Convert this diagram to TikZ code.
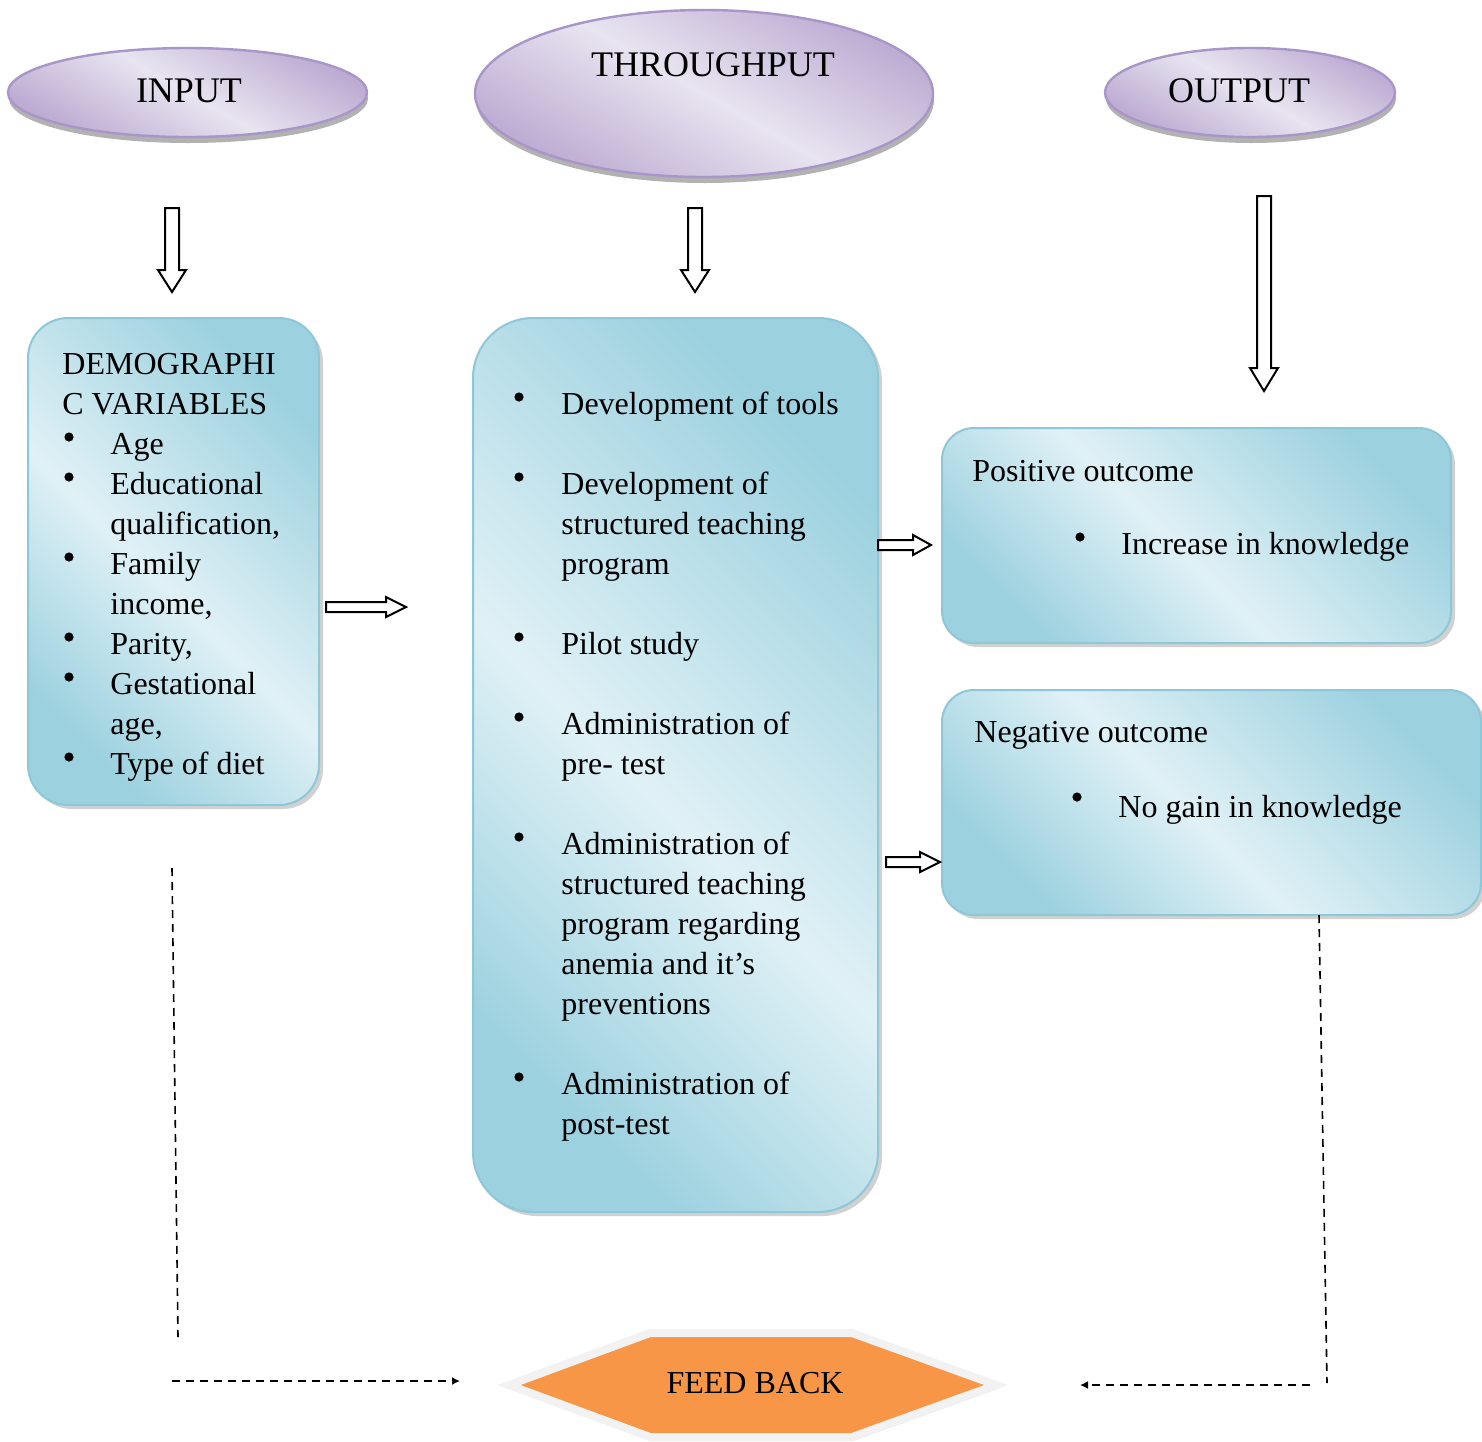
\documentclass[tikz,border=0pt]{standalone}
\usepackage{fontspec}
\setmainfont{Liberation Serif}
\usetikzlibrary{shapes.geometric,shadows,arrows.meta}
\definecolor{bdark}{HTML}{9CD1DF}
\definecolor{blight}{HTML}{E0F1F6}
\definecolor{bborder}{HTML}{8DC7D8}
\definecolor{pdark}{HTML}{BDABD2}
\definecolor{plight}{HTML}{E8E4F0}
\definecolor{pborder}{HTML}{A996C8}
\definecolor{fborange}{HTML}{F79646}
\pgfdeclarehorizontalshading{bluegr}{100bp}{color(0bp)=(bdark); color(25bp)=(bdark); color(47bp)=(blight); color(75bp)=(bdark); color(100bp)=(bdark)}
\pgfdeclarehorizontalshading{purplegr}{100bp}{color(0bp)=(pdark); color(25bp)=(pdark); color(50bp)=(plight); color(75bp)=(pdark); color(100bp)=(pdark)}
\newcommand\downblock[4]{%
  \draw[blockarrow] (#1-7,#2) -- (#1+7,#2) -- (#1+7,#3) -- (#1+14,#3) -- (#1,#4) -- (#1-14,#3) -- (#1-7,#3) -- cycle;}
\newcommand\rightblock[4]{%
  \draw[blockarrow] (#1,#4-5) -- (#2,#4-5) -- (#2,#4-10) -- (#3,#4) -- (#2,#4+10) -- (#2,#4+5) -- (#1,#4+5) -- cycle;}
\begin{document}
\begin{tikzpicture}[x=0.5pt,y=-0.5pt,
  bluebox/.style={rectangle, draw=bborder, line width=1pt, shading=bluegr, shading angle=45, inner sep=0,
    drop shadow={shadow xshift=2pt, shadow yshift=-2pt, opacity=0.18, fill=black}},
  purpleell/.style={ellipse, draw=pborder, line width=1.2pt, shading=purplegr, shading angle=60, inner sep=0,
    drop shadow={shadow xshift=0.5pt, shadow yshift=-3pt, opacity=0.3, fill=black}},
  blockarrow/.style={draw=black, line width=1pt, fill=white, line join=miter},
  dashline/.style={draw=black, line width=0.8pt, dash pattern=on 4pt off 3pt},
  title/.style={anchor=base, inner sep=0, font=\fontsize{18}{22}\selectfont},
  txt/.style={anchor=base west, inner sep=0, font=\fontsize{16}{20}\selectfont},
  bul/.style={circle, fill=black, inner sep=0, minimum size=4.6pt},
]
\useasboundingbox (0,0) rectangle (1482,1441);

% ellipses
\node[purpleell, minimum width=179.5pt, minimum height=44.5pt] (inell) at (187.5,92.5) {};
\node[purpleell, minimum width=229pt, minimum height=83.5pt] (thell) at (704,93.5) {};
\node[purpleell, minimum width=145pt, minimum height=44.5pt] (outell) at (1250,92.5) {};
\node[title] (intxt) at (189,102) {INPUT};
\node[title] (thtxt) at (713,76) {THROUGHPUT};
\node[title] (outtxt) at (1239,102) {OUTPUT};

% down block arrows
\downblock{172}{208}{270}{292}
\downblock{695}{208}{270}{292}
\downblock{1264}{196}{368}{391}

% boxes
\node[bluebox, rounded corners=20pt, minimum width=145.5pt, minimum height=243.5pt] (inbox) at (173.5,561.5) {};
\node[bluebox, rounded corners=30pt, minimum width=202.5pt, minimum height=447pt] (thbox) at (675.5,765) {};
\node[bluebox, rounded corners=16pt, minimum width=254.5pt, minimum height=107.5pt] (posbox) at (1196.5,535.5) {};
\node[bluebox, rounded corners=16pt, minimum width=269.5pt, minimum height=112.5pt] (negbox) at (1211.5,802.5) {};

% right block arrows
\rightblock{326}{386}{406}{607}
\rightblock{878}{913}{931}{545}
\rightblock{886}{920}{940}{862}

% input box text
\node[txt] (l1) at (62,374) {DEMOGRAPHI};
\node[txt] (l2) at (62,414) {C VARIABLES};
\foreach \y/\t/\b in {454/Age/1, 494/Educational/1, 534/{qualification,}/0, 574/Family/1, 614/{income,}/0, 654/{Parity,}/1, 694/Gestational/1, 734/{age,}/0, 774/Type of diet/1}{
  \node[txt] at (110,\y) {\t};
  \ifnum\b=1 \node[bul] at (69,\y-17) {};\fi
}

% throughput box text
\foreach \y/\t/\b in {414/Development of tools/1, 494/Development of/1, 534/structured teaching/0, 574/program/0,
  654/Pilot study/1, 734/Administration of/1, 774/pre- test/0,
  854/Administration of/1, 894/structured teaching/0, 934/program regarding/0, 974/anemia and it’s/0, 1014/preventions/0,
  1094/Administration of/1, 1134/post-test/0}{
  \node[txt] at (561,\y) {\t};
  \ifnum\b=1 \node[bul] at (519,\y-17) {};\fi
}

% output boxes text
\node[txt] (postxt) at (972,481) {Positive outcome};
\node[bul] (posbul) at (1080,537) {};
\node[txt] (positem) at (1121,554) {Increase in knowledge};
\node[txt] (negtxt) at (974,742) {Negative outcome};
\node[bul] (negbul) at (1077,797) {};
\node[txt] (negitem) at (1118,817) {No gain in knowledge};

% feedback hexagon
\path[draw=gray!10, line width=4pt, line join=miter, fill=fborange,
  drop shadow={shadow xshift=0.5pt, shadow yshift=-2pt, opacity=0.3, fill=brown}]
  (509,1385) -- (650,1333) -- (852,1333) -- (996,1385) -- (852,1437) -- (650,1437) -- cycle;
\node[anchor=base, inner sep=0, font=\fontsize{16}{20}\selectfont] (fb) at (755,1393) {FEED BACK};

% dashed feedback lines
\coordinate (a1) at (172,868);
\coordinate (a2) at (178,1337);
\coordinate (a3) at (172,1381);
\coordinate (a4) at (460,1381);
\coordinate (b1) at (1319,915);
\coordinate (b2) at (1327,1383);
\coordinate (b3) at (1310,1385);
\coordinate (b4) at (1080,1385);
\draw[dashline] (a1) -- (a2);
\draw[dashline, -{Latex[length=4pt,width=4pt]}] (a3) -- (a4);
\draw[dashline] (b1) -- (b2);
\draw[dashline, -{Latex[length=4pt,width=4pt]}] (b3) -- (b4);
\end{tikzpicture}
\end{document}
